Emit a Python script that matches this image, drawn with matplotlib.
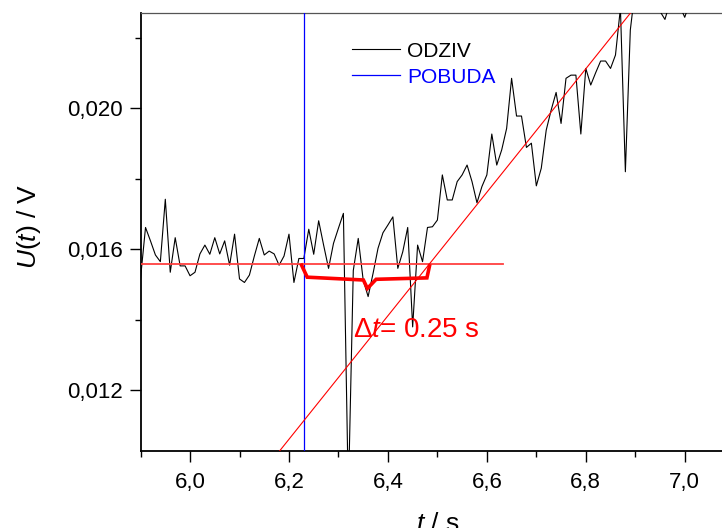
import numpy as np
import matplotlib
matplotlib.use("Agg")
import matplotlib.pyplot as plt

plt.rcParams['font.family'] = ['Liberation Sans', 'DejaVu Sans']
plt.rcParams['mathtext.fontset'] = 'custom'
plt.rcParams['mathtext.rm'] = 'Liberation Sans'
plt.rcParams['mathtext.it'] = 'Liberation Sans:italic'

# odziv (response) sampled every 10 ms from t = 5.90 s
t_start = 5.90
dt = 0.01
odziv = [0.01519, 0.01662, 0.01624, 0.01584, 0.01565, 0.01742, 0.01535, 0.01633,
         0.01553, 0.01553, 0.01525, 0.01535, 0.01587, 0.01612, 0.01586, 0.01633,
         0.01587, 0.01624, 0.01555, 0.01643, 0.01516, 0.01506, 0.01527, 0.01581,
         0.01631, 0.01584, 0.01595, 0.01587, 0.01555, 0.01581, 0.01643, 0.01506,
         0.01574, 0.01574, 0.01657, 0.01586, 0.01681, 0.01612, 0.01546, 0.01617,
         0.01660, 0.01702, 0.00900, 0.01540, 0.01631, 0.01513, 0.01466, 0.01532,
         0.01603, 0.01647, 0.01669, 0.01692, 0.01546, 0.01593, 0.01662, 0.01380,
         0.01612, 0.01565, 0.01662, 0.01664, 0.01683, 0.01811, 0.01740, 0.01740,
         0.01792, 0.01811, 0.01839, 0.01792, 0.01732, 0.01778, 0.01811, 0.01927,
         0.01839, 0.01882, 0.01943, 0.02085, 0.01978, 0.01978, 0.01889, 0.01901,
         0.01780, 0.01830, 0.01938, 0.01995, 0.02045, 0.01957, 0.02085, 0.02094,
         0.02094, 0.01927, 0.02113, 0.02066, 0.02101, 0.02134, 0.02134, 0.02113,
         0.02151, 0.02284, 0.01820, 0.02222, 0.02340, 0.02360, 0.02330, 0.02350,
         0.02320, 0.02275, 0.02252, 0.02300, 0.02340, 0.02290, 0.02258, 0.02300,
         0.02350, 0.02330, 0.02360, 0.02340, 0.02370, 0.02350]
t = np.round(t_start + dt * np.arange(len(odziv)), 3)

pobuda_t = 6.231          # stimulus onset
baseline = 0.01558        # mean level before response
baseline_end = 6.632
fit_slope = 0.01751       # V/s, rising edge fit
fit_cross = 6.4836        # fit crosses baseline here
fit_range = [6.17, 6.92]

bracket_t = [6.2255, 6.2369, 6.3504, 6.3585, 6.3761, 6.4788, 6.4841]
bracket_v = [0.01555, 0.01521, 0.01513, 0.01489, 0.01515, 0.01519, 0.01553]

xticks = [6.0, 6.2, 6.4, 6.6, 6.8, 7.0]
xtick_labels = ['6,0', '6,2', '6,4', '6,6', '6,8', '7,0']
yticks = [0.012, 0.016, 0.020]
ytick_labels = ['0,012', '0,016', '0,020']

fig = plt.figure(figsize=(7.22, 5.28), dpi=100)
ax = fig.add_axes([0.1947, 0.1458, 0.8222, 0.8301])

ax.plot(t, odziv, color='black', lw=0.8, label='ODZIV', zorder=3)
ax.axvline(pobuda_t, color='blue', lw=0.9, label='POBUDA', zorder=4)

ax.plot([t_start, baseline_end], [baseline, baseline], color='#ff4040', lw=1.3, zorder=5)
fit_t = np.array(fit_range)
ax.plot(fit_t, baseline + fit_slope * (fit_t - fit_cross), color='red', lw=0.8, zorder=5)
ax.plot(bracket_t, bracket_v, color='red', lw=2.6, solid_joinstyle='miter', zorder=6)

ax.text(6.330, 0.01352, r'$\Delta\mathit{t}$= 0.25 s', color='red', fontsize=20,
        ha='left', va='baseline')

ax.set_xlim(5.9, 7.1)
ax.set_ylim(0.01028, 0.02271)

ax.set_xticks(xticks)
ax.set_xticklabels(xtick_labels)
ax.set_xticks(np.arange(5.9, 7.15, 0.2), minor=True)
ax.set_yticks(yticks)
ax.set_yticklabels(ytick_labels)
ax.set_yticks([0.014, 0.018, 0.022], minor=True)

ax.tick_params(which='both', direction='out', width=1.0, labelsize=16, top=False, right=False)
ax.tick_params(which='major', length=8)
ax.tick_params(which='minor', length=4)
ax.tick_params(axis='x', pad=7)
ax.tick_params(axis='y', pad=5)

for side in ['left', 'bottom']:
    ax.spines[side].set_linewidth(1.3)
ax.spines['top'].set_linewidth(0.9)
ax.spines['top'].set_color('#555555')
ax.spines['right'].set_visible(False)

ax.set_xlabel(r'$\mathit{t}$ / s', fontsize=19, labelpad=14)
ax.set_ylabel(r'$\mathit{U}$($\mathit{t}$) / V', fontsize=19)
ax.yaxis.set_label_coords(-0.165, 0.513)

leg = ax.legend(loc='upper left', bbox_to_anchor=(0.357, 0.934), frameon=False,
                fontsize=15, handlelength=2.3, handletextpad=0.32,
                labelspacing=0.34, borderpad=0, borderaxespad=0)
leg.get_texts()[1].set_color('blue')

fig.savefig('out.png', dpi=100)
